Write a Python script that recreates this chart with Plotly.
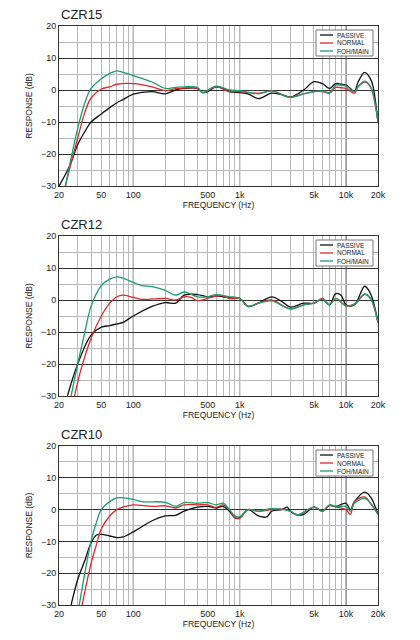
import plotly.graph_objects as go

# CZR15
f15_passive = [20, 25, 30, 35, 40, 50, 60, 70, 80, 100, 150, 200, 250, 300, 400, 450, 500, 600, 700, 800, 1000, 1200, 1500, 2000, 2500, 3000, 4000, 5000, 6000, 7000, 8000, 9000, 10000, 11000, 12000, 13000, 15000, 17000, 18000, 20000]
r15_passive = [-30, -24, -17, -13, -10, -7.5, -5.5, -4, -3, -1.3, -0.5, -1.2, 0, 0.5, 0.5, -0.8, -0.5, 1, 0.5, -0.5, -0.8, -1.2, -2.7, -1, -1.5, -2.2, 0, 2.6, 2, 0.5, 2, 1.8, 1.5, 0.5, -0.5, 2.5, 5.5, 3.5, 1, -10]
f15_normal = [23, 25, 30, 35, 40, 50, 60, 70, 100, 150, 200, 250, 300, 400, 450, 600, 800, 1000, 1500, 2000, 3000, 4000, 5000, 6000, 7000, 8000, 9000, 10000, 12000, 13000, 15000, 17000, 20000]
r15_normal = [-30, -25, -15, -7, -2.5, 0.3, 1, 1.8, 2, 1, -0.2, 0.4, 0.6, 0.5, -0.8, 1, -0.5, -0.5, -1, -0.3, -2.2, -1.2, -0.5, -0.5, -1, 0.8, 0.7, 0.5, -1, 1, 2.5, 1, -10]
f15_foh = [23, 25, 30, 35, 40, 50, 60, 70, 80, 100, 150, 200, 250, 300, 400, 450, 600, 800, 1000, 1500, 2000, 3000, 4000, 5000, 6000, 7000, 8000, 9000, 10000, 12000, 13000, 15000, 17000, 20000]
r15_foh = [-30, -24, -12, -4, 0.5, 3.5, 5.2, 6, 5.5, 4.5, 2.5, 0.5, 0.8, 1, 0.8, -0.8, 1.2, 0, -0.2, -1.2, -0.3, -2.3, -1.2, -0.5, -0.3, -0.8, 1.5, 1.5, 1.3, -0.5, 1, 2.8, 1, -10]

# CZR12
f12_passive = [24, 30, 40, 50, 60, 70, 80, 100, 150, 200, 250, 300, 400, 500, 600, 700, 800, 1000, 1200, 1500, 2000, 2500, 3000, 4000, 5000, 6000, 7000, 8000, 9000, 10000, 12000, 15000, 17000, 20000]
r12_passive = [-30, -20, -11, -8.5, -8, -7.5, -7, -5, -2, -0.8, -1, 1.5, 1.7, 1, 1.3, 1, 0.8, 0.5, -2, -1, 1, -0.5, -2.2, -1, -1, 0.3, -1.5, 2, 1.5, -1.5, -1.5, 4.3, 2, -7]
f12_normal = [28, 32, 40, 50, 60, 70, 80, 100, 120, 200, 250, 300, 350, 400, 500, 600, 700, 800, 1000, 1200, 1500, 2000, 3000, 4000, 5000, 6000, 7000, 8000, 10000, 12000, 15000, 17000, 20000]
r12_normal = [-30, -22, -12, -5, -1, 1, 1.5, 0.8, 0.2, 0.5, 0, 1, 0.8, -0.2, 0.5, 1.2, 1.3, 0.5, 0.5, -2, -1, 0, -2.8, -1.5, -1, 0.5, -1.5, 0.5, -1.8, -1.5, 1.8, 0.5, -7]
f12_foh = [26, 30, 35, 40, 50, 60, 70, 80, 100, 120, 150, 200, 250, 300, 400, 500, 600, 800, 1000, 1200, 1500, 2000, 3000, 4000, 5000, 6000, 7000, 8000, 10000, 12000, 15000, 17000, 20000]
r12_foh = [-30, -20, -10, -2, 4.5, 6.5, 7.2, 6.8, 5.5, 4.5, 4.2, 3, 1.5, 2.5, 1, 1, 1.7, 1, 0.5, -2, -1, -0.3, -2.8, -1.5, -1, 0.3, -1.5, 0.5, -1.8, -1.2, 1.8, 0.5, -7]

# CZR10
f10_passive = [26, 30, 35, 40, 45, 50, 60, 70, 80, 100, 150, 200, 250, 300, 400, 500, 600, 700, 800, 900, 1000, 1200, 1500, 1800, 2000, 2500, 2800, 3000, 3500, 4000, 5000, 6000, 7000, 8000, 10000, 11000, 12000, 15000, 17000, 20000]
r10_passive = [-30, -22, -16, -10.5, -8, -7.8, -8.3, -8.8, -8.6, -7, -3.5, -2, -1.8, -0.5, 0.8, 1, 0.5, 1, -0.5, -2.5, -2.5, 0, -2, -2.3, -0.5, 0, 0.8, -0.5, -1.7, -1.5, 0.8, -0.5, 1.3, 1, 2, 0, 2.5, 5.5, 4, -1.5]
f10_normal = [33, 40, 45, 50, 60, 70, 80, 100, 150, 200, 250, 300, 400, 500, 600, 700, 800, 900, 1000, 1200, 1500, 2000, 2500, 3000, 3500, 5000, 6000, 7000, 8000, 10000, 11000, 12000, 15000, 17000, 20000]
r10_normal = [-30, -17, -11, -6, -2, 0, 0.8, 1.5, 1, 1.2, 0.5, 1.5, 1.5, 1.5, 0.7, 1.5, 0, -2.5, -2.8, 0, -0.5, 0, 0.2, -0.5, -1.7, 0.8, -0.5, 1.3, 0.8, 0, -1.5, 2.5, 4, 2, -1.5]
f10_foh = [31, 35, 40, 45, 50, 60, 70, 80, 100, 120, 200, 250, 300, 400, 500, 600, 700, 800, 900, 1000, 1200, 1500, 2000, 3000, 3500, 5000, 6000, 7000, 8000, 10000, 11000, 12000, 15000, 17000, 20000]
r10_foh = [-30, -20, -10, -4, 0, 2.5, 3.7, 3.7, 3.2, 2.5, 2.3, 1, 2.2, 2, 2.2, 1.5, 2, 0, -2, -2.3, 0, -0.5, 0.3, -0.5, -1.7, 0.8, -0.5, 1.5, 1, 1, -0.5, 2, 3.5, 2, -1.5]

titles = ["CZR15", "CZR12", "CZR10"]
series_names = ["PASSIVE", "NORMAL", "FOH/MAIN"]
colors = ["#111111", "#e0282a", "#1a9e6e"]
charts = [
    [(f15_passive, r15_passive), (f15_normal, r15_normal), (f15_foh, r15_foh)],
    [(f12_passive, r12_passive), (f12_normal, r12_normal), (f12_foh, r12_foh)],
    [(f10_passive, r10_passive), (f10_normal, r10_normal), (f10_foh, r10_foh)],
]

grid_vals = [m * d for d in (10, 100, 1000, 10000) for m in range(1, 10) if 20 <= m * d <= 20000] + [20000]
label_map = {20: "20", 50: "50", 100: "100", 500: "500", 1000: "1k", 5000: "5k", 10000: "10k", 20000: "20k"}
grid_text = [label_map.get(v, "") for v in grid_vals]

X0, X1 = 59 / 420, 378 / 420
domains = [(1 - 186 / 640, 1 - 26 / 640), (1 - 396 / 640, 1 - 236 / 640), (1 - 605 / 640, 1 - 446 / 640)]
font = dict(family="Liberation Sans, Arial", color="#222")

fig = go.Figure()
layout = dict(width=420, height=640, margin=dict(l=0, r=0, t=0, b=0), showlegend=False,
              paper_bgcolor="white", plot_bgcolor="white", font=dict(size=8, **font))
shapes, annotations = [], []
for i, (title, data) in enumerate(zip(titles, charts)):
    n = "" if i == 0 else str(i + 1)
    lo, hi = domains[i]
    for name, color, (f, r) in zip(series_names, colors, data):
        fig.add_scatter(x=f, y=r, name=name, mode="lines", line=dict(color=color, width=1.3, shape="spline"),
                        xaxis="x" + n, yaxis="y" + n)
    layout["xaxis" + n] = dict(type="log", domain=[X0, X1], range=[1.30103, 4.30103], anchor="y" + n,
                               tickvals=grid_vals, ticktext=grid_text, ticks="", showgrid=True, automargin=False,
                               gridcolor="#b8b8b8", gridwidth=1, showline=True, linecolor="#333", mirror=True,
                               zeroline=False, title=dict(text="FREQUENCY (Hz)", standoff=0, font=dict(size=8.5)),
                               tickfont=dict(size=9))
    layout["yaxis" + n] = dict(domain=[lo, hi], range=[-30, 20], anchor="x" + n, tickvals=list(range(-30, 21, 10)),
                               gridcolor="#333", gridwidth=1, showline=True, linecolor="#333", mirror=True,
                               zeroline=False, minor=dict(dtick=5, showgrid=True, gridcolor="#b8b8b8"),
                               automargin=False, ticklabelstandoff=0,
                               title=dict(text="RESPONSE (dB)", standoff=6, font=dict(size=8.5)),
                               tickfont=dict(size=9))
    for dec in (100, 1000, 10000):
        shapes.append(dict(type="line", xref="x" + n, yref="y" + n + " domain", x0=dec, x1=dec, y0=0, y1=1,
                           line=dict(color="#333", width=1), layer="below"))
    # legend box
    bx0, bx1 = 316 / 420, 373 / 420
    by1 = hi - 4 / 640
    by0 = by1 - 26 / 640
    shapes.append(dict(type="rect", xref="paper", yref="paper", x0=bx0, x1=bx1, y0=by0, y1=by1,
                       line=dict(color="#555", width=0.8), fillcolor="white"))
    for k, (name, color) in enumerate(zip(series_names, colors)):
        yy = by1 - (5 + 8 * k) / 640
        shapes.append(dict(type="line", xref="paper", yref="paper", x0=320 / 420, x1=333 / 420, y0=yy, y1=yy,
                           line=dict(color=color, width=1.3)))
        annotations.append(dict(text=name, x=335 / 420, y=yy, xref="paper", yref="paper", xanchor="left",
                                yanchor="middle", showarrow=False, font=dict(size=6.5, **font)))
    annotations.append(dict(text=title, x=X0, y=hi + 0.003, xref="paper", yref="paper",
                            xanchor="left", yanchor="bottom", showarrow=False, font=dict(size=13, **font)))

layout["shapes"] = shapes
layout["annotations"] = annotations
fig.update_layout(**layout)
fig.write_html("out.html", config={"displayModeBar": False},
               post_script="document.body.style.margin='0';")
